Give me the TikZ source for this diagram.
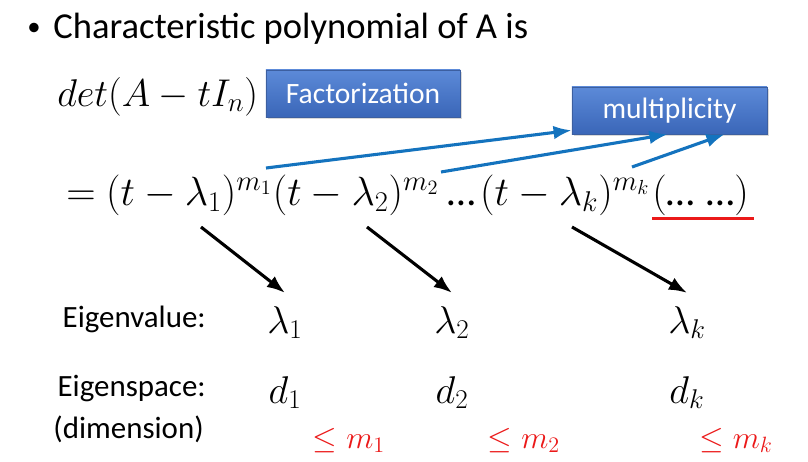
\RequirePackage{fix-cm}
\documentclass[tikz,border=0pt]{standalone}
\usepackage{amsmath,amssymb}
\usepackage{fontspec}
\setmainfont{Carlito}
\usepackage{tikz}
\usetikzlibrary{arrows.meta,positioning,calc,shadows}

\definecolor{boxtop}{RGB}{92,138,216}
\definecolor{boxbot}{RGB}{58,102,184}
\definecolor{boxline}{RGB}{60,95,160}
\definecolor{linkblue}{RGB}{20,115,190}
\definecolor{markred}{RGB}{235,25,25}

\newcommand{\bigmath}{\fontsize{27.5}{33}\selectfont}
\newcommand{\eqmath}{\fontsize{29}{35}\selectfont}

\begin{document}
\begin{tikzpicture}[x=0.025cm,y=-0.025cm,>=Latex]
  \tikzstyle{tag}=[draw=boxline,line width=0.4pt,top color=boxtop,bottom color=boxbot,text=white,
    font=\fontsize{21}{25}\selectfont,inner sep=0pt,minimum height=1.175cm,
    drop shadow={shadow xshift=1.5pt,shadow yshift=-1.5pt,opacity=0.3}]
  \tikzstyle{eqpart}=[anchor=base west,inner sep=0pt,font=\eqmath]
  \tikzstyle{mathlbl}=[anchor=base,inner sep=0pt,font=\bigmath]
  \tikzstyle{rowlbl}=[anchor=base east,inner sep=0pt,font=\fontsize{22}{26}\selectfont]
  \tikzstyle{bound}=[anchor=base,inner sep=0pt,text=markred,font=\fontsize{22.5}{27}\selectfont]
  \tikzstyle{link}=[->,linkblue,line width=2.2pt]
  \tikzstyle{pick}=[->,black,line width=2.2pt]
  \useasboundingbox (0,0) rectangle (808,461);

  \node[anchor=base west,inner sep=0pt,font=\fontsize{26}{31}\selectfont] (title) at (27,38)
    {{\fontsize{19}{20}\selectfont\raisebox{1.5pt}{\textbullet}}\hspace{0.35em}Characteristic polynomial of A is};
  \node[anchor=base west,inner sep=0pt,font=\bigmath] (det) at (57,106) {$det(A-tI_n)$};
  \node[tag,minimum width=4.85cm] (fact) at (363,93.5) {Factorization};
  \node[tag,minimum width=4.875cm] (mult) at (669.5,110.5) {multiplicity};

  % factored form
  \node[eqpart] (eq) at (66,205) {$=$};
  \node[eqpart] (f1) at ($(eq.base east)+(10,0)$) {$(t-\lambda_1)^{m_1}$};
  \node[eqpart] (f2) at (f1.base east) {$(t-\lambda_2)^{m_2}$};
  \node[eqpart] (dots) at ($(f2.base east)+(8,0)$) {$\text{…}$};
  \node[eqpart] (fk) at ($(dots.base east)+(4,0)$) {$(t-\lambda_k)^{m_k}$};
  \node[eqpart] (rest) at ($(fk.base east)+(2,0)$) {$(\text{…}\;\text{…})$};
  \draw[markred,line width=2.2pt] ($(rest.south west)+(0,3)$) -- ($(rest.south east)+(5,3)$);

  % rows
  \node[rowlbl] (evlbl) at (206,327) {Eigenvalue:};
  \node[rowlbl] (eslbl) at (206,396) {Eigenspace:};
  \node[rowlbl] (dimlbl) at (204,438) {(dimension)};
  \foreach \i/\x in {1/285,2/452,k/687} {
    \node[mathlbl] (ev\i) at (\x,333) {$\lambda_\i$};
    \node[mathlbl] (d\i) at (\x,403) {$d_\i$};
  }
  \foreach \i/\x in {1/349,2/524,k/736}
    \node[bound] (b\i) at (\x,448) {$\leq m_\i$};

  % arrows
  \coordinate (s1) at (201,227);
  \coordinate (s2) at (367,227);
  \coordinate (sk) at (572,227);
  \foreach \i in {1,2,k}
    \draw[pick] (s\i) -- ($(ev\i.north)+(0,-13)$);
  \coordinate (u1) at (266,168);
  \coordinate (u2) at (441,172);
  \coordinate (uk) at (632,167);
  \draw[link] (u1) -- ($(mult.south west)+(0,-4)$);
  \draw[link] (u2) -- ($(mult.south)+(-2,0)$);
  \draw[link] (uk) -- ($(mult.south)+(55,0)$);
\end{tikzpicture}
\end{document}
